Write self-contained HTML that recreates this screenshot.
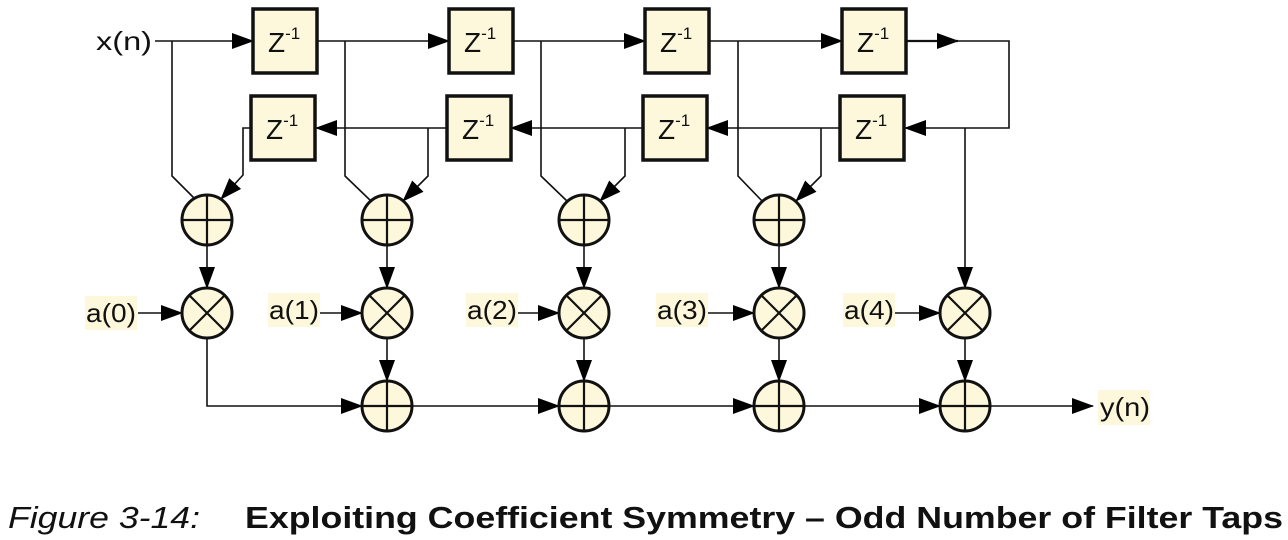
<!DOCTYPE html>
<html><head><meta charset="utf-8"><style>
html,body{margin:0;padding:0;background:#fff;}
svg{display:block;}
</style></head><body>
<svg width="1288" height="540" viewBox="0 0 1288 540" xmlns="http://www.w3.org/2000/svg">
<defs>
<marker id="a" markerUnits="userSpaceOnUse" markerWidth="22" markerHeight="16" refX="21" refY="8" orient="auto">
<path d="M0,0 L22,8 L0,16 Z" fill="#000"/>
</marker>
</defs>
<g fill="none" stroke="#111" stroke-width="1.6">
<line x1="155" y1="41" x2="253" y2="41" marker-end="url(#a)"/>
<line x1="317" y1="41" x2="449" y2="41" marker-end="url(#a)"/>
<line x1="513" y1="41" x2="645" y2="41" marker-end="url(#a)"/>
<line x1="709" y1="41" x2="842" y2="41" marker-end="url(#a)"/>
<line x1="906" y1="41" x2="958" y2="41" marker-end="url(#a)" stroke-width="2.2"/>
<polyline points="950,41 1009,41 1009,128 905,128" marker-end="url(#a)"/>
<line x1="840" y1="128" x2="707" y2="128" marker-end="url(#a)"/>
<line x1="643" y1="128" x2="511" y2="128" marker-end="url(#a)"/>
<line x1="447" y1="128" x2="316" y2="128" marker-end="url(#a)"/>
<polyline points="172,41 172,176 196,200"/>
<polyline points="345,41 345,176 372,202"/>
<polyline points="541,41 541,176 568,202"/>
<polyline points="738,41 738,176 763,202"/>
<polyline points="251,128 243,128 243,175 221,199" marker-end="url(#a)"/>
<polyline points="428,128 428,176 403,201" marker-end="url(#a)"/>
<polyline points="625,128 625,176 600,201" marker-end="url(#a)"/>
<polyline points="821,128 821,176 796,201" marker-end="url(#a)"/>
<line x1="965" y1="128" x2="965" y2="288" marker-end="url(#a)"/>
<line x1="207" y1="245" x2="207" y2="288" marker-end="url(#a)"/>
<line x1="387" y1="245" x2="387" y2="288" marker-end="url(#a)"/>
<line x1="584" y1="245" x2="584" y2="288" marker-end="url(#a)"/>
<line x1="779" y1="245" x2="779" y2="288" marker-end="url(#a)"/>
<polyline points="207,338 207,406 362,406" marker-end="url(#a)"/>
<line x1="387" y1="338" x2="387" y2="381" marker-end="url(#a)"/>
<line x1="584" y1="338" x2="584" y2="381" marker-end="url(#a)"/>
<line x1="779" y1="338" x2="779" y2="381" marker-end="url(#a)"/>
<line x1="965" y1="338" x2="965" y2="381" marker-end="url(#a)"/>
<line x1="412" y1="406" x2="559" y2="406" marker-end="url(#a)"/>
<line x1="609" y1="406" x2="754" y2="406" marker-end="url(#a)"/>
<line x1="804" y1="406" x2="940" y2="406" marker-end="url(#a)"/>
<line x1="990" y1="406" x2="1093" y2="406" marker-end="url(#a)"/>
<line x1="138" y1="313" x2="182" y2="313" marker-end="url(#a)"/>
<line x1="319" y1="313" x2="362" y2="313" marker-end="url(#a)"/>
<line x1="517" y1="313" x2="559" y2="313" marker-end="url(#a)"/>
<line x1="707" y1="313" x2="754" y2="313" marker-end="url(#a)"/>
<line x1="895" y1="313" x2="940" y2="313" marker-end="url(#a)"/>
</g>
<g fill="#fdf8dc" stroke="#111" stroke-width="3.5">
<rect x="253" y="9" width="64" height="64"/>
<rect x="449" y="9" width="64" height="64"/>
<rect x="645" y="9" width="64" height="64"/>
<rect x="842" y="9" width="64" height="64"/>
<rect x="251" y="96" width="64" height="64"/>
<rect x="447" y="96" width="64" height="64"/>
<rect x="643" y="96" width="64" height="64"/>
<rect x="840" y="96" width="64" height="64"/>
</g>
<g font-family="Liberation Sans, sans-serif" font-size="28" fill="#111">
<text x="268" y="52">Z<tspan font-size="17" dy="-13">-1</tspan></text>
<text x="464" y="52">Z<tspan font-size="17" dy="-13">-1</tspan></text>
<text x="660" y="52">Z<tspan font-size="17" dy="-13">-1</tspan></text>
<text x="857" y="52">Z<tspan font-size="17" dy="-13">-1</tspan></text>
<text x="266" y="139">Z<tspan font-size="17" dy="-13">-1</tspan></text>
<text x="462" y="139">Z<tspan font-size="17" dy="-13">-1</tspan></text>
<text x="658" y="139">Z<tspan font-size="17" dy="-13">-1</tspan></text>
<text x="855" y="139">Z<tspan font-size="17" dy="-13">-1</tspan></text>
</g>
<g fill="#fdf8dc" stroke="#111" stroke-width="3">
<circle cx="207" cy="220" r="25"/><circle cx="387" cy="220" r="25"/><circle cx="584" cy="220" r="25"/><circle cx="779" cy="220" r="25"/>
<circle cx="207" cy="313" r="25"/><circle cx="387" cy="313" r="25"/><circle cx="584" cy="313" r="25"/><circle cx="779" cy="313" r="25"/><circle cx="965" cy="313" r="25"/>
<circle cx="387" cy="406" r="25"/><circle cx="584" cy="406" r="25"/><circle cx="779" cy="406" r="25"/><circle cx="965" cy="406" r="25"/>
</g>
<g stroke="#111" stroke-width="2.2">
<path d="M182,220h50M207,195v50 M362,220h50M387,195v50 M559,220h50M584,195v50 M754,220h50M779,195v50"/>
<path d="M362,406h50M387,381v50 M559,406h50M584,381v50 M754,406h50M779,381v50 M940,406h50M965,381v50"/>
<path d="M189,295l36,36M225,295l-36,36 M369,295l36,36M405,295l-36,36 M566,295l36,36M602,295l-36,36 M761,295l36,36M797,295l-36,36 M947,295l36,36M983,295l-36,36"/>
</g>
<g fill="#fdf8dc">
<rect x="85" y="296" width="52" height="34"/>
<rect x="268" y="293" width="52" height="34"/>
<rect x="466" y="293" width="52" height="34"/>
<rect x="656" y="293" width="52" height="34"/>
<rect x="843" y="293" width="52" height="34"/>
<rect x="1098" y="390" width="52" height="35"/>
</g>
<g font-family="Liberation Sans, sans-serif" font-size="26" fill="#111">
<text x="96" y="50" textLength="56" lengthAdjust="spacingAndGlyphs">x(n)</text>
<text x="86" y="322" textLength="50" lengthAdjust="spacingAndGlyphs">a(0)</text>
<text x="269" y="319" textLength="50" lengthAdjust="spacingAndGlyphs">a(1)</text>
<text x="467" y="319" textLength="50" lengthAdjust="spacingAndGlyphs">a(2)</text>
<text x="657" y="319" textLength="50" lengthAdjust="spacingAndGlyphs">a(3)</text>
<text x="844" y="319" textLength="50" lengthAdjust="spacingAndGlyphs">a(4)</text>
<text x="1100" y="416" textLength="50" lengthAdjust="spacingAndGlyphs">y(n)</text>
</g>
<text x="8" y="528" font-family="Liberation Sans, sans-serif" font-style="italic" font-size="31" fill="#111" textLength="192" lengthAdjust="spacingAndGlyphs">Figure 3-14:</text>
<text x="245" y="528" font-family="Liberation Sans, sans-serif" font-weight="bold" font-size="31" fill="#111" textLength="1038" lengthAdjust="spacingAndGlyphs">Exploiting Coefficient Symmetry – Odd Number of Filter Taps</text>
</svg>
</body></html>
